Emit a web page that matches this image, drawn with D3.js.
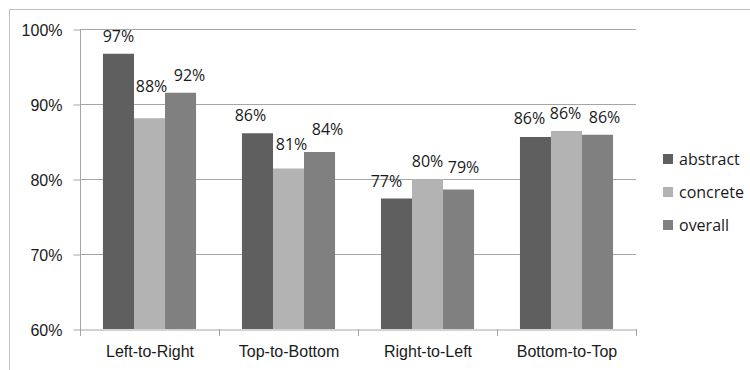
<!DOCTYPE html>
<html>
<head>
<meta charset="utf-8">
<script src="https://cdn.jsdelivr.net/npm/d3@7"></script>
<style>
  html, body { margin: 0; padding: 0; background: #fff; }
  svg { display: block; font-family: "Open Sans", "Noto Sans", sans-serif; }
</style>
</head>
<body>
<svg id="chart" width="750" height="370"></svg>
<script>
// Reading direction conditions and accuracy per stimulus type
const categories = ["Left-to-Right", "Top-to-Bottom", "Right-to-Left", "Bottom-to-Top"];
const seriesNames = ["abstract", "concrete", "overall"];
const abstractVals = [0.967, 0.861, 0.774, 0.856];
const concreteVals = [0.881, 0.814, 0.800, 0.864];
const overallVals  = [0.915, 0.836, 0.786, 0.859];
const yTicks = [0.6, 0.7, 0.8, 0.9, 1.0];

const seriesValues = { abstract: abstractVals, concrete: concreteVals, overall: overallVals };
const colors = { abstract: "#5f5f5f", concrete: "#b3b3b3", overall: "#808080" };
const fontSize = "16px";

const svg = d3.select("#chart");

// chart frame
svg.append("rect")
  .attr("x", 9.5).attr("y", 9.5)
  .attr("width", 760).attr("height", 380)
  .attr("fill", "none").attr("stroke", "#bfbfbf").attr("stroke-width", 1);

const plot = { left: 80, right: 636, top: 29, bottom: 329 };

const x0 = d3.scaleBand().domain(categories).range([plot.left, plot.right]).paddingInner(0).paddingOuter(0);
const x1 = d3.scaleBand().domain(seriesNames).range([0, x0.bandwidth()]).paddingInner(0).paddingOuter(0.74);
const y = d3.scaleLinear().domain([0.6, 1.0]).range([plot.bottom, plot.top]);

const gridColor = "#a6a6a6";

// horizontal gridlines
svg.append("g").selectAll("line")
  .data(yTicks.filter(t => t > 0.6))
  .join("line")
  .attr("x1", plot.left).attr("x2", plot.right)
  .attr("y1", d => Math.round(y(d)) + 0.5).attr("y2", d => Math.round(y(d)) + 0.5)
  .attr("stroke", gridColor).attr("stroke-width", 1);

// y axis
const yAxis = svg.append("g")
  .attr("transform", `translate(${plot.left + 0.5},0.5)`)
  .call(d3.axisLeft(y).tickValues(yTicks).tickFormat(d3.format(".0%")).tickSize(7).tickPadding(11));
yAxis.select(".domain").attr("stroke", gridColor).attr("d", `M-0,${plot.bottom}V${plot.top}`);
yAxis.selectAll(".tick line").attr("stroke", gridColor);
yAxis.selectAll(".tick text").attr("fill", "#1a1a1a").style("font-size", fontSize)
  .attr("dy", "0.36em");

// bars
const groups = svg.append("g").selectAll("g")
  .data(categories)
  .join("g")
  .attr("transform", d => `translate(${x0(d)},0)`);

groups.selectAll("rect")
  .data((c, i) => seriesNames.map(s => ({ series: s, value: seriesValues[s][i], ci: i })))
  .join("rect")
  .attr("x", d => x1(d.series))
  .attr("y", d => y(d.value))
  .attr("width", x1.bandwidth())
  .attr("height", d => y(0.6) - y(d.value))
  .attr("fill", d => colors[d.series]);

// x axis
const xAxis = svg.append("g")
  .attr("transform", `translate(0.5,${plot.bottom + 0.5})`)
  .call(d3.axisBottom(x0).tickSize(0).tickPadding(16));
xAxis.select(".domain").attr("stroke", gridColor);
xAxis.selectAll(".tick text").attr("fill", "#1a1a1a").style("font-size", fontSize);
// category separator ticks
svg.append("g").selectAll("line")
  .data(d3.range(categories.length + 1))
  .join("line")
  .attr("x1", i => plot.left + i * x0.step() + 0.5)
  .attr("x2", i => plot.left + i * x0.step() + 0.5)
  .attr("y1", plot.bottom).attr("y2", plot.bottom + 7)
  .attr("stroke", gridColor);

// value labels (placed above bars, shifted where neighbours would collide)
const labelShift = {
  abstract: [[0, 0], [-7, 0], [-10, 0], [-6, -1]],
  concrete: [[2, -14], [3, -7], [0, 0], [-1, 0]],
  overall:  [[9, 0], [8, -5], [5, -5], [7, 0]]
};
groups.selectAll("text.value")
  .data((c, i) => seriesNames.map(s => ({ series: s, value: seriesValues[s][i], ci: i })))
  .join("text")
  .attr("class", "value")
  .attr("x", d => x1(d.series) + x1.bandwidth() / 2 + labelShift[d.series][d.ci][0])
  .attr("y", d => y(d.value) - 12 + labelShift[d.series][d.ci][1])
  .attr("text-anchor", "middle")
  .attr("fill", "#1a1a1a")
  .style("font-size", fontSize)
  .text(d => d3.format(".0%")(d.value));

// legend
const legend = svg.append("g").attr("transform", "translate(663,159)");
const items = legend.selectAll("g")
  .data(seriesNames)
  .join("g")
  .attr("transform", (d, i) => `translate(0,${i * 33})`);
items.append("rect")
  .attr("x", 0).attr("y", -5).attr("width", 10).attr("height", 10)
  .attr("fill", d => colors[d]);
items.append("text")
  .attr("x", 16).attr("y", 0).attr("dy", "0.35em")
  .attr("fill", "#1a1a1a")
  .style("font-size", fontSize)
  .text(d => d);
</script>
</body>
</html>
